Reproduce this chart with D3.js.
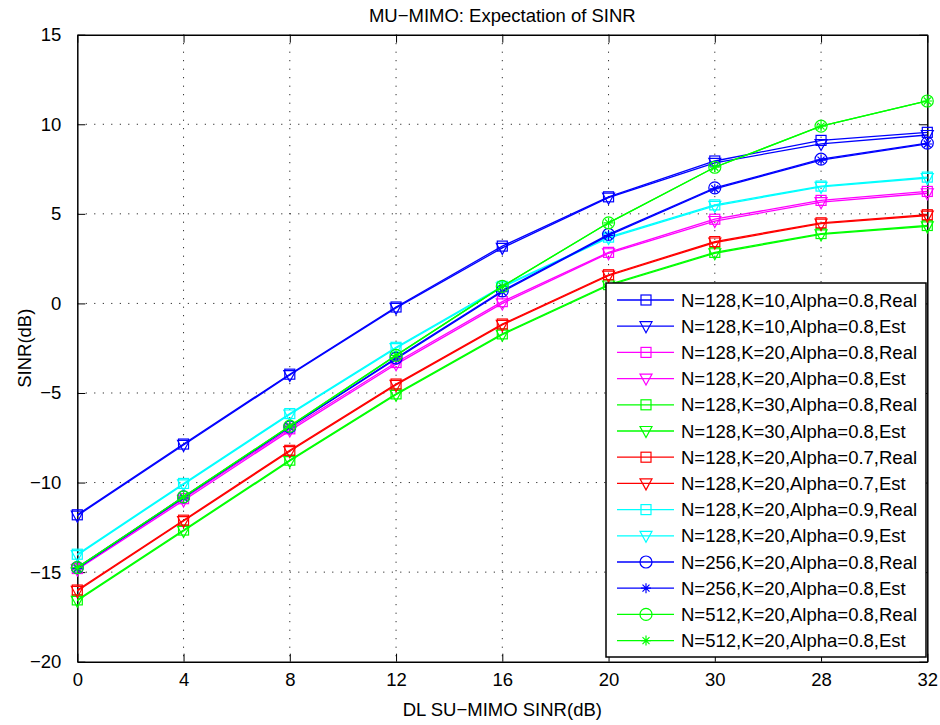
<!DOCTYPE html>
<html>
<head>
<meta charset="utf-8">
<script src="https://cdn.jsdelivr.net/npm/d3@7/dist/d3.min.js"></script>
<style>
  html, body { margin: 0; padding: 0; background: #fff; }
  svg { display: block; font-family: "Liberation Sans", Arial, Helvetica, sans-serif; }
</style>
</head>
<body>
<svg id="chart" width="940" height="725"></svg>
<script>
// ---------- data ----------
const xLabels = ["0", "4", "8", "12", "16", "20", "30", "28", "32"];
const yTicks = [-20, -15, -10, -5, 0, 5, 10, 15];

const seriesNames = [
  "N=128,K=10,Alpha=0.8,Real",
  "N=128,K=10,Alpha=0.8,Est",
  "N=128,K=20,Alpha=0.8,Real",
  "N=128,K=20,Alpha=0.8,Est",
  "N=128,K=30,Alpha=0.8,Real",
  "N=128,K=30,Alpha=0.8,Est",
  "N=128,K=20,Alpha=0.7,Real",
  "N=128,K=20,Alpha=0.7,Est",
  "N=128,K=20,Alpha=0.9,Real",
  "N=128,K=20,Alpha=0.9,Est",
  "N=256,K=20,Alpha=0.8,Real",
  "N=256,K=20,Alpha=0.8,Est",
  "N=512,K=20,Alpha=0.8,Real",
  "N=512,K=20,Alpha=0.8,Est"
];
const seriesColors = ["#0000ff","#0000ff","#ff00ff","#ff00ff","#00ff00","#00ff00","#ff0000","#ff0000",
                      "#00ffff","#00ffff","#0000ff","#0000ff","#00ff00","#00ff00"];
const seriesMarkers = ["square","triangle","square","triangle","square","triangle","square","triangle",
                       "square","triangle","circle","star","circle","star"];

const k10Real   = [-11.8, -7.85, -3.95, -0.2, 3.2, 5.95, 7.95, 9.1, 9.55];
const k10Est    = [-11.85, -7.9, -4.0, -0.25, 3.1, 5.9, 7.85, 8.9, 9.4];
const k20Real   = [-14.8, -10.9, -7.0, -3.3, 0.1, 2.85, 4.7, 5.75, 6.25];
const k20Est    = [-14.85, -11.0, -7.1, -3.4, 0.0, 2.8, 4.6, 5.65, 6.15];
const k30Real   = [-16.55, -12.65, -8.75, -5.05, -1.7, 1.05, 2.85, 3.9, 4.35];
const k30Est    = [-16.6, -12.7, -8.8, -5.1, -1.75, 1.0, 2.8, 3.85, 4.3];
const a07Real   = [-16.0, -12.1, -8.2, -4.5, -1.15, 1.6, 3.45, 4.5, 4.95];
const a07Est    = [-16.05, -12.15, -8.25, -4.55, -1.2, 1.55, 3.4, 4.45, 4.9];
const a09Real   = [-14.0, -10.05, -6.15, -2.45, 0.95, 3.7, 5.5, 6.55, 7.05];
const a09Est    = [-14.05, -10.1, -6.2, -2.5, 0.9, 3.65, 5.45, 6.5, 7.0];
const n256Real  = [-14.75, -10.8, -6.9, -3.05, 0.7, 3.85, 6.45, 8.05, 8.95];
const n256Est   = [-14.8, -10.85, -6.9, -3.1, 0.65, 3.8, 6.4, 8.0, 8.9];
const n512Real  = [-14.75, -10.8, -6.85, -2.9, 0.95, 4.5, 7.6, 9.9, 11.3];
const n512Est   = [-14.75, -10.8, -6.85, -2.9, 0.95, 4.5, 7.6, 9.9, 11.3];

const seriesValues = [k10Real, k10Est, k20Real, k20Est, k30Real, k30Est, a07Real, a07Est,
                      a09Real, a09Est, n256Real, n256Est, n512Real, n512Est];

const titleText = "MU\u2212MIMO: Expectation of SINR";
const xTitle = "DL SU\u2212MIMO SINR(dB)";
const yTitle = "SINR(dB)";

// ---------- layout ----------
const L = 77.3, R = 927.3, T = 34.7, B = 661.7;
const FONT = 18.5;

const svg = d3.select("#chart");
const x = d3.scalePoint().domain(xLabels).range([L, R]);
const y = d3.scaleLinear().domain([-20, 15]).range([B, T]);

// grid
const grid = svg.append("g").attr("class", "grid");
grid.selectAll("line.gx").data(xLabels.slice(1, -1)).enter().append("line")
  .attr("x1", d => x(d)).attr("x2", d => x(d)).attr("y1", T).attr("y2", B)
  .attr("stroke", "#000").attr("stroke-width", 1).attr("stroke-dasharray", "1,7.5");
grid.selectAll("line.gy").data(yTicks.slice(1, -1)).enter().append("line")
  .attr("x1", L).attr("x2", R).attr("y1", d => y(d)).attr("y2", d => y(d))
  .attr("stroke", "#000").attr("stroke-width", 1).attr("stroke-dasharray", "1,7.5");

// axes
const tickLen = 8;
const xAxisB = d3.axisBottom(x).tickSizeInner(-tickLen).tickSizeOuter(0).tickPadding(tickLen + 3);
const xAxisT = d3.axisTop(x).tickSizeInner(-tickLen).tickSizeOuter(0).tickFormat("");
const yAxisL = d3.axisLeft(y).tickValues(yTicks).tickSizeInner(-tickLen).tickSizeOuter(0).tickPadding(tickLen + 8);
const yAxisR = d3.axisRight(y).tickValues(yTicks).tickSizeInner(-tickLen).tickSizeOuter(0).tickFormat("");

function styleAxis(g) {
  g.selectAll("path.domain").attr("stroke", "#000").attr("stroke-width", 1.5);
  g.selectAll(".tick line").attr("stroke", "#000").attr("stroke-width", 1);
  g.selectAll(".tick text").attr("fill", "#000").style("font-size", FONT + "px")
    .style("font-family", "'Liberation Sans', Arial, sans-serif");
}
svg.append("g").attr("transform", `translate(0,${B})`).call(xAxisB).call(styleAxis);
svg.append("g").attr("transform", `translate(0,${T})`).call(xAxisT).call(styleAxis);
svg.append("g").attr("transform", `translate(${L},0)`).call(yAxisL).call(styleAxis);
svg.append("g").attr("transform", `translate(${R},0)`).call(yAxisR).call(styleAxis);

// marker drawing
function drawMarker(g, type, cx, cy, color) {
  if (type === "square") {
    g.append("rect").attr("x", cx - 5).attr("y", cy - 5).attr("width", 10).attr("height", 10)
      .attr("fill", "none").attr("stroke", color).attr("stroke-width", 1.2);
  } else if (type === "triangle") {
    g.append("path").attr("d", `M${cx - 6},${cy - 4.5}L${cx + 6},${cy - 4.5}L${cx},${cy + 6.5}Z`)
      .attr("fill", "none").attr("stroke", color).attr("stroke-width", 1.2);
  } else if (type === "circle") {
    g.append("circle").attr("cx", cx).attr("cy", cy).attr("r", 6)
      .attr("fill", "none").attr("stroke", color).attr("stroke-width", 1.2);
  } else if (type === "star") {
    const a = 5, b = 3.5;
    g.append("path").attr("d",
      `M${cx - a},${cy}L${cx + a},${cy}M${cx},${cy - a}L${cx},${cy + a}` +
      `M${cx - b},${cy - b}L${cx + b},${cy + b}M${cx - b},${cy + b}L${cx + b},${cy - b}`)
      .attr("fill", "none").attr("stroke", color).attr("stroke-width", 1.2);
  }
}

// series
const line = d3.line().x((d, i) => x(xLabels[i])).y(d => y(d));
const plot = svg.append("g");
seriesValues.forEach((vals, si) => {
  const g = plot.append("g");
  g.append("path").datum(vals).attr("d", line)
    .attr("fill", "none").attr("stroke", seriesColors[si]).attr("stroke-width", 1.3);
  vals.forEach((v, i) => drawMarker(g, seriesMarkers[si], x(xLabels[i]), y(v), seriesColors[si]));
});

// legend
const lgX0 = 606, lgX1 = 926, lgY0 = 283, lgY1 = 657;
const lg = svg.append("g");
lg.append("rect").attr("x", lgX0).attr("y", lgY0).attr("width", lgX1 - lgX0).attr("height", lgY1 - lgY0)
  .attr("fill", "#fff").attr("stroke", "#000").attr("stroke-width", 1.5);
const rowY0 = 300, rowStep = 26.2;
seriesNames.forEach((name, i) => {
  const ry = rowY0 + i * rowStep;
  lg.append("line").attr("x1", 617).attr("x2", 674).attr("y1", ry).attr("y2", ry)
    .attr("stroke", seriesColors[i]).attr("stroke-width", 1.3);
  drawMarker(lg, seriesMarkers[i], 646, ry, seriesColors[i]);
  lg.append("text").attr("x", 681).attr("y", ry).attr("dy", "0.36em")
    .style("font-size", FONT + "px").attr("fill", "#000").text(name);
});

// titles
svg.append("text").attr("x", (L + R) / 2).attr("y", 21.5).attr("text-anchor", "middle")
  .style("font-size", FONT + "px").attr("fill", "#000").text(titleText);
svg.append("text").attr("x", (L + R) / 2).attr("y", 716).attr("text-anchor", "middle")
  .style("font-size", FONT + "px").attr("fill", "#000").text(xTitle);
svg.append("text").attr("transform", `translate(31,${(T + B) / 2}) rotate(-90)`).attr("text-anchor", "middle")
  .style("font-size", FONT + "px").attr("fill", "#000").text(yTitle);
</script>
</body>
</html>
